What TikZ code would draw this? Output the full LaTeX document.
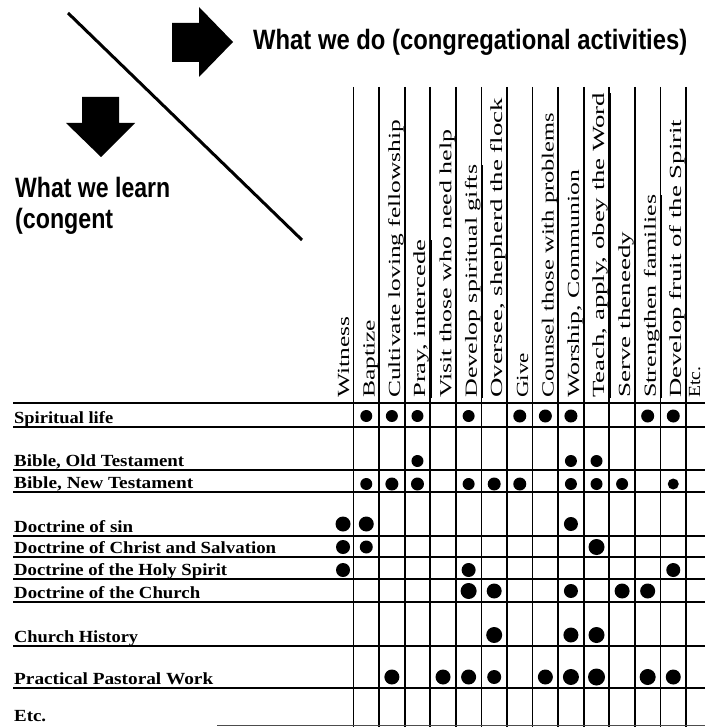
\documentclass[tikz,border=0pt]{standalone}
\usepackage{fontspec}
\usepackage{graphicx}
\setmainfont{Liberation Serif}
\newfontfamily\hdfont{Liberation Sans}
\tikzset{
  hdtext/.style={anchor=base west, inner sep=0pt, font=\hdfont\bfseries\fontsize{28}{28}\selectfont},
  rowlab/.style={anchor=base west, inner sep=0pt, font=\bfseries\fontsize{17}{17}\selectfont},
  collab/.style={anchor=base west, inner sep=0pt, rotate=90, font=\fontsize{17}{17}\selectfont},
  gridline/.style={line width=1.8pt},
  dotmark/.style={circle, fill=black, inner sep=0pt},
}
\begin{document}
\begin{tikzpicture}[x=1pt,y=-1pt]
\useasboundingbox (0,0) rectangle (705,727);
\fill[white] (0,0) rectangle (705,727);
% header
\node[hdtext] (hdo) at (253,50) {\resizebox{434pt}{\height}{What we do (congregational activities)}};
\node[hdtext] (hlearn1) at (15,197) {\resizebox{155pt}{\height}{What we learn}};
\node[hdtext] (hlearn2) at (15,228) {\resizebox{98pt}{\height}{(congent}};
% arrows
\fill (172,23) -- (199,23) -- (199,7) -- (233,42) -- (199,77) -- (199,62) -- (172,62) -- cycle;
\fill (82,97) -- (119,97) -- (119,123) -- (135,123) -- (101,157) -- (66,123) -- (82,123) -- cycle;
% diagonal
\draw[line width=3pt] (68,13) -- (302,240);
% vertical grid lines
\foreach \k in {0,...,13}{
  \pgfmathsetmacro\xx{353.5+25.58*\k}
  \draw[gridline] (\xx,87) -- (\xx,727);
}
% horizontal grid lines
\foreach \yy in {403,427,470,492,536,557,579,602,646,688}{
  \draw[gridline] (13,\yy) -- (705,\yy);
}
\draw[line width=1pt, black!70] (217,725.5) -- (705,725.5);
% column labels
\foreach \k/\len/\txt in {
  0/81/{Witness},
  1/78/{\underline{Baptize}},
  2/278/{\underline{Cultivate loving fellowship}},
  3/158/{\underline{Pray, intercede}},
  4/268/{\underline{Visit those who need help}},
  5/233/{\underline{Develop spiritual gifts}},
  6/300/{\underline{Oversee, shepherd the flock}},
  7/45/{Give},
  8/285/{\underline{Counsel those with problems}},
  9/228/{\underline{Worship, Communion}},
  10/305/{\underline{Teach, apply, obey the Word}},
  11/166/{\underline{Serve theneedy}},
  12/203/{\underline{Strengthen families}},
  13/278/{\underline{Develop fruit of the Spirit}}}{
  \pgfmathsetmacro\bx{353.5+25.58*\k-4.5}
  \node[collab] (col\k) at (\bx,398) {\resizebox{\len pt}{\height}{\txt}};
}
\node[collab] (col14) at (700,398) {\resizebox{31pt}{\height}{Etc.}};
% row labels
\node[rowlab] (r1) at (14,423) {\resizebox{99pt}{\height}{Spiritual life}};
\node[rowlab] (r2) at (14,466) {\resizebox{170pt}{\height}{Bible, Old Testament}};
\node[rowlab] (r3) at (14,488) {\resizebox{179pt}{\height}{Bible, New Testament}};
\node[rowlab] (r4) at (14,532) {\resizebox{119pt}{\height}{Doctrine of sin}};
\node[rowlab] (r5) at (14,553) {\resizebox{262pt}{\height}{Doctrine of Christ and Salvation}};
\node[rowlab] (r6) at (14,575) {\resizebox{213pt}{\height}{Doctrine of the Holy Spirit}};
\node[rowlab] (r7) at (14,598) {\resizebox{186pt}{\height}{Doctrine of the Church}};
\node[rowlab] (r8) at (14,642) {\resizebox{124pt}{\height}{Church History}};
\node[rowlab] (r9) at (14,684) {\resizebox{199pt}{\height}{Practical Pastoral Work}};
\node[rowlab] (r10) at (14,721) {\resizebox{32pt}{\height}{Etc.}};
% dots
\foreach \yy/\k/\r in {
  416/1/6, 416/2/6, 416/3/6, 416/5/6, 416/7/6.5, 416/8/6.5, 416/9/6.5, 416/12/6.5, 416/13/6.5,
  461/3/6, 461/9/6, 461/10/6,
  484/1/6, 484/2/6.5, 484/3/6.5, 484/5/6, 484/6/6.5, 484/7/6.5, 484/9/6, 484/10/6, 484/11/6, 484/13/5.5,
  524/0/7.5, 524/1/7.5, 524/9/7,
  547/0/7, 547/1/6.5, 547/10/8,
  570/0/7, 570/5/7, 570/13/7,
  591/5/8, 591/6/7.5, 591/9/7, 591/11/7.5, 591/12/7.5,
  635/6/8, 635/9/7.5, 635/10/8,
  677/2/7.5, 677/4/7.5, 677/5/7.5, 677/6/7, 677/8/7.5, 677/9/8, 677/10/8.5, 677/12/8, 677/13/7.5}{
  \pgfmathsetmacro\xx{\k==0 ? 343 : 353.5+25.58*(\k-0.5)}
  \pgfmathsetmacro\dd{2*\r}
  \node[dotmark, minimum size=\dd pt] (d\yy-\k) at (\xx,\yy) {};
}
\end{tikzpicture}
\end{document}
